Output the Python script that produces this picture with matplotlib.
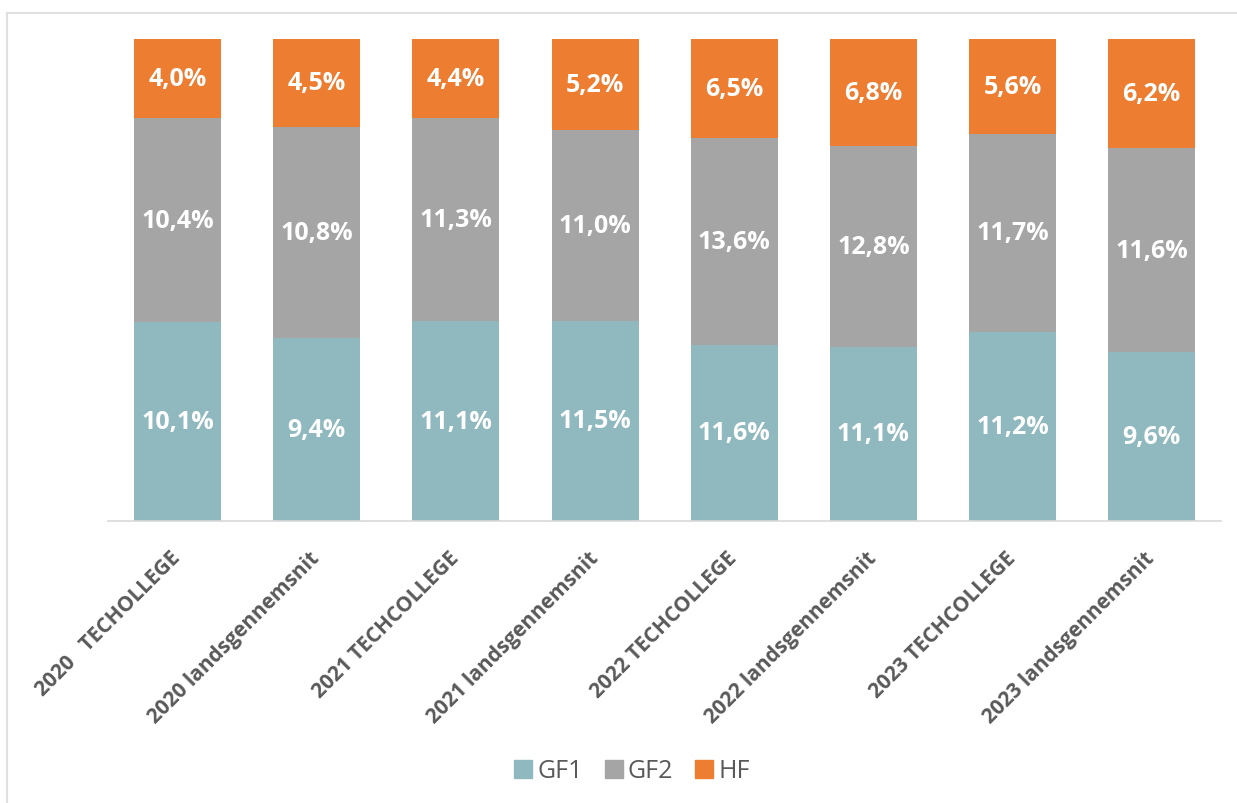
import numpy as np
import matplotlib.pyplot as plt
from matplotlib.lines import Line2D

categories = ['2020   TECHOLLEGE', '2020 landsgennemsnit', '2021 TECHCOLLEGE',
              '2021 landsgennemsnit', '2022 TECHCOLLEGE', '2022 landsgennemsnit',
              '2023 TECHCOLLEGE', '2023 landsgennemsnit']
gf1 = [10.1, 9.4, 11.1, 11.5, 11.6, 11.1, 11.2, 9.6]
gf2 = [10.4, 10.8, 11.3, 11.0, 13.6, 12.8, 11.7, 11.6]
hf = [4.0, 4.5, 4.4, 5.2, 6.5, 6.8, 5.6, 6.2]
series = ['GF1', 'GF2', 'HF']
colors = ['#8FB9BF', '#A5A5A5', '#ED7D31']

plt.rcParams['font.family'] = ['Open Sans', 'DejaVu Sans']

fig = plt.figure(figsize=(12.37, 8.04), dpi=100)
ax = fig.add_axes([0.0873, 0.3507, 0.900, 0.5995])

data = np.array([gf1, gf2, hf])
share = data / data.sum(axis=0)
x = np.arange(len(categories))
bottom = np.zeros(len(categories))
for vals, frac, name, col in zip(data, share, series, colors):
    ax.bar(x, frac, 0.625, bottom=bottom, color=col, label=name)
    for xi, b, f, v in zip(x, bottom, frac, vals):
        ax.text(xi, b + f / 2, f'{v:.1f}%'.replace('.', ','), ha='center', va='center',
                color='white', fontsize=18, fontweight='bold')
    bottom += frac

ax.set_xlim(-0.5, 7.5)
ax.set_ylim(0, 1)
ax.set_yticks([])
for s in ['top', 'right', 'left']:
    ax.spines[s].set_visible(False)
ax.spines['bottom'].set_color('#D9D9D9')
ax.spines['bottom'].set_linewidth(1.2)
ax.set_xticks(x)
ax.set_xticklabels(categories, rotation=45, ha='right', va='center', rotation_mode='anchor',
                   fontsize=15, fontweight='bold', color='#595959')
ax.tick_params(axis='x', length=0, pad=24)

handles = [Line2D([], [], marker='s', linestyle='none', markersize=12.5, color=c) for c in colors]
fig.legend(handles, series, loc='center', bbox_to_anchor=(0.511, 0.04), ncol=3, frameon=False,
           fontsize=18, labelcolor='#595959', handlelength=0.7, handletextpad=0.2,
           columnspacing=0.9)

# outer chart border (left and top)
fig.add_artist(Line2D([7 / 1237, 7 / 1237], [0, 1 - 14 / 804], transform=fig.transFigure,
                      color='#E0E0E0', lw=1.5))
fig.add_artist(Line2D([7 / 1237, 1], [1 - 14 / 804, 1 - 14 / 804], transform=fig.transFigure,
                      color='#E0E0E0', lw=1.5))

fig.savefig('out.png', dpi=100)
